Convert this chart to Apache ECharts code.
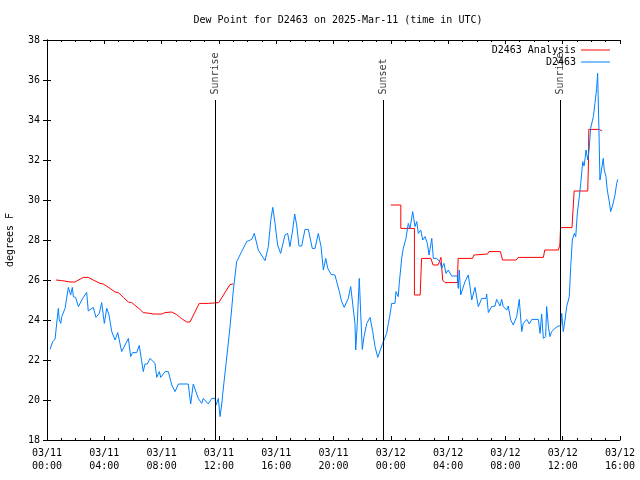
<!DOCTYPE html>
<html>
<head>
<meta charset="utf-8">
<script src="https://cdn.jsdelivr.net/npm/echarts@6/dist/echarts.min.js"></script>
<style>html,body{margin:0;padding:0;background:#fff;}#c{width:640px;height:480px;}</style>
</head>
<body>
<div id="c"></div>
<script>
// Hours since 03/11 00:00 UTC
const titleText = 'Dew Point for D2463 on 2025-Mar-11 (time in UTC)';
const xTickLabels = ['03/11\n00:00','03/11\n04:00','03/11\n08:00','03/11\n12:00','03/11\n16:00','03/11\n20:00','03/12\n00:00','03/12\n04:00','03/12\n08:00','03/12\n12:00','03/12\n16:00'];

const obsHours = [
0.21,0.40,0.56,0.68,0.79,0.86,0.96,1.03,1.26,1.49,
1.65,1.77,1.84,2.00,2.19,2.49,2.60,2.77,2.88,3.23,
3.42,3.65,3.82,4.00,4.17,4.33,4.52,4.75,4.94,5.21,
5.68,5.84,5.98,6.26,6.44,6.72,6.84,7.00,7.19,7.54,
7.66,7.84,7.94,8.24,8.47,8.71,8.94,9.17,9.86,10.03,
10.21,10.56,10.80,10.91,11.26,11.50,11.73,11.80,11.96,12.08,
12.20,12.27,12.50,12.78,13.01,13.24,13.59,13.94,14.29,14.47,
14.75,15.22,15.45,15.62,15.76,15.92,16.10,16.31,16.61,16.80,
16.96,17.15,17.29,17.43,17.59,17.78,18.01,18.24,18.52,18.71,
18.94,19.01,19.13,19.29,19.46,19.60,19.83,20.10,20.41,20.57,
20.75,21.03,21.20,21.31,21.50,21.55,21.66,21.80,21.90,22.01,
22.13,22.32,22.55,22.74,22.90,23.09,23.43,23.71,23.83,23.94,
24.06,24.29,24.36,24.52,24.59,24.76,24.87,25.06,25.22,25.34,
25.53,25.69,25.81,25.92,26.09,26.23,26.39,26.55,26.67,26.86,
26.97,27.20,27.43,27.55,27.71,27.85,28.01,28.25,28.64,28.71,
28.78,28.88,29.18,29.41,29.53,29.65,29.88,30.11,30.35,30.65,
30.69,30.81,31.04,31.27,31.39,31.62,31.74,31.85,32.09,32.20,
32.37,32.55,32.79,32.97,33.14,33.25,33.49,33.67,33.84,34.30,
34.42,34.53,34.65,34.81,34.88,35.00,35.11,35.23,35.46,35.69,
35.86,35.93,36.04,36.16,36.28,36.46,36.56,36.67,36.81,36.91,
37.02,37.16,37.26,37.40,37.49,37.56,37.63,37.75,37.84,37.95,
38.14,38.25,38.37,38.44,38.53,38.60,38.72,38.83,38.90,39.02,
39.11,39.25,39.35,39.49,39.65,39.77,39.84];
const obsValues = [
22.53,22.92,23.03,23.03,24.58,24.0,23.83,24.17,24.58,25.63,
25.25,25.63,25.17,25.13,24.67,25.08,25.03,25.38,24.45,24.63,
24.13,24.33,24.87,23.83,24.58,24.25,23.42,23.0,23.37,22.42,
23.08,22.17,22.37,22.37,22.73,21.42,21.8,21.8,22.08,21.83,
21.13,21.42,21.13,21.42,21.42,20.75,20.42,20.8,20.8,19.8,
20.8,20.08,19.83,20.08,19.8,20.08,20.08,19.75,20.08,19.17,
19.8,20.33,21.83,23.67,25.5,26.92,27.42,27.92,28.03,28.33,
27.5,26.97,27.67,28.98,29.63,28.83,27.75,27.33,28.25,28.33,
27.67,28.5,29.3,28.75,27.7,27.7,28.53,28.53,27.58,27.58,
28.33,28.42,27.67,26.5,27.08,26.58,26.28,26.25,25.42,24.92,
24.63,25.08,25.67,25.0,23.8,22.5,23.83,26.08,24.33,22.53,
23.17,23.83,24.13,23.42,22.67,22.13,22.83,23.33,23.83,24.25,
24.83,24.83,25.42,25.17,25.83,27.08,27.58,28.08,28.83,28.58,
29.42,28.67,28.92,28.33,28.5,28.0,28.17,27.83,27.25,28.08,
27.08,27.08,26.92,26.58,26.83,26.33,26.5,26.2,26.2,25.58,
26.5,25.25,25.92,26.25,25.67,25.0,25.63,24.67,25.08,25.08,
25.3,24.37,24.67,24.7,25.03,24.7,25.03,24.67,24.5,24.7,
24.0,23.75,24.17,25.03,23.42,23.83,24.03,23.8,24.03,24.03,
23.33,24.3,23.08,23.17,24.67,23.67,23.17,23.42,23.58,23.7,
23.7,24.33,23.42,24.0,24.67,25.17,26.67,28.0,28.33,28.17,
29.33,30.17,30.83,31.92,31.7,32.08,32.5,32.0,32.5,33.58,
34.17,34.83,35.58,36.33,33.5,31.0,31.0,32.08,31.5,31.17,
30.5,29.92,29.42,29.75,30.25,30.83,31.03];

const anaHoursA = [0.63,1.03,1.61,1.95,2.53,2.88,3.23,3.70,3.93,4.40,4.75,4.98,5.33,5.68,5.91,6.49,6.72,7.19,7.42,8.01,8.24,8.71,9.05,9.40,9.75,9.98,10.63,11.26,11.38,11.99,12.77,13.01];
const anaValuesA = [26.0,25.97,25.9,25.9,26.13,26.13,26.0,25.83,25.8,25.58,25.4,25.37,25.13,24.9,24.87,24.53,24.37,24.33,24.3,24.3,24.37,24.4,24.27,24.07,23.9,23.9,24.83,24.83,24.88,24.87,25.77,25.8];
const anaHoursB = [24.0,24.7,24.7,25.65,25.65,26.05,26.15,26.8,26.95,27.3,27.5,27.62,27.78,28.65,28.7,29.7,29.8,30.75,30.85,31.65,31.8,32.75,32.9,34.65,34.75,35.7,35.8,35.85,36.65,36.8,37.75,37.8,37.82,38.55,38.6,38.75];
const anaValuesB = [29.75,29.75,28.58,28.58,25.25,25.25,27.08,27.08,26.75,26.75,27.13,26.0,25.87,25.87,27.08,27.08,27.25,27.3,27.42,27.42,27.0,27.0,27.13,27.13,27.5,27.5,27.75,28.62,28.62,30.45,30.45,32.0,33.53,33.53,33.47,33.45];

const sunHours = [11.75, 23.48, 35.83];
const sunLabels = ['Sunrise', 'Sunset', 'Sunrise'];
const sunTop = 35;

const FONT = 'DejaVu Sans Mono';
const zip = (a, b) => a.map((v, i) => [v, b[i]]);

const chart = echarts.init(document.getElementById('c'), null, {renderer: 'canvas'});
const tickCommon = {
  axisLine: {show: true, lineStyle: {color: '#000', width: 1}},
  axisTick: {show: true, inside: true, length: 4, lineStyle: {color: '#000'}},
  splitLine: {show: false}
};
chart.setOption({
  animation: false,
  backgroundColor: '#fff',
  title: {
    text: titleText, left: 333, top: 10, textAlign: 'center',
    textStyle: {fontFamily: FONT, fontSize: 10, fontWeight: 'normal', color: '#000'}
  },
  legend: [
    {data: ['D2463 Analysis'], right: 30, top: 45, padding: 0, icon: 'rect', itemWidth: 29, itemHeight: 1, align: 'right',
     textStyle: {fontFamily: FONT, fontSize: 10, color: '#000'}},
    {data: ['D2463'], right: 30, top: 57, padding: 0, icon: 'rect', itemWidth: 29, itemHeight: 1, align: 'right',
     textStyle: {fontFamily: FONT, fontSize: 10, color: '#000'}}
  ],
  grid: {left: 47, right: 20, top: 40, bottom: 40, containLabel: false, outerBoundsMode: 'none'},
  xAxis: [
    Object.assign({}, tickCommon, {
      type: 'value', min: 0, max: 40, interval: 4, position: 'bottom',
      minorTick: {show: true, splitNumber: 4, length: 2, lineStyle: {color: '#000'}},
      axisLabel: {fontFamily: FONT, fontSize: 10, color: '#000', lineHeight: 13, margin: 7,
        formatter: v => xTickLabels[Math.round(v / 4)]}
    }),
    Object.assign({}, tickCommon, {
      type: 'value', min: 0, max: 40, interval: 4, position: 'top',
      minorTick: {show: true, splitNumber: 4, length: 2, lineStyle: {color: '#000'}},
      axisLabel: {show: false}
    })
  ],
  yAxis: [
    Object.assign({}, tickCommon, {
      type: 'value', min: 18, max: 38, interval: 2, position: 'left',
      name: 'degrees F', nameLocation: 'middle', nameRotate: 90, nameGap: 32,
      nameTextStyle: {fontFamily: FONT, fontSize: 10, color: '#000'},
      axisLabel: {fontFamily: FONT, fontSize: 10, color: '#000', margin: 7}
    }),
    Object.assign({}, tickCommon, {
      type: 'value', min: 18, max: 38, interval: 2, position: 'right',
      axisLabel: {show: false}
    })
  ],
  series: [
    {
      name: 'sun', type: 'scatter', symbolSize: 1, itemStyle: {color: 'rgba(0,0,0,0)'}, silent: true,
      data: sunHours.map(t => [t, sunTop]),
      label: {show: true, position: 'top', distance: 5, rotate: 90, align: 'left', verticalAlign: 'middle',
        fontFamily: FONT, fontSize: 10, color: '#000',
        formatter: p => sunLabels[p.dataIndex]},
      markLine: {
        silent: true, symbol: ['none', 'none'], label: {show: false},
        lineStyle: {color: '#000', type: 'solid', width: 1},
        data: sunHours.map(t => [{coord: [t, 18]}, {coord: [t, sunTop]}])
      }
    },
    {
      name: 'D2463 Analysis', type: 'line', showSymbol: false, symbol: 'none',
      lineStyle: {color: '#ff0000', width: 1}, itemStyle: {color: '#ff0000'},
      data: zip(anaHoursA, anaValuesA)
    },
    {
      name: 'D2463 Analysis', type: 'line', showSymbol: false, symbol: 'none',
      lineStyle: {color: '#ff0000', width: 1}, itemStyle: {color: '#ff0000'},
      data: zip(anaHoursB, anaValuesB)
    },
    {
      name: 'D2463', type: 'line', showSymbol: false, symbol: 'none',
      lineStyle: {color: '#0080ff', width: 1}, itemStyle: {color: '#0080ff'},
      data: zip(obsHours, obsValues)
    }
  ]
});
</script>
</body>
</html>
